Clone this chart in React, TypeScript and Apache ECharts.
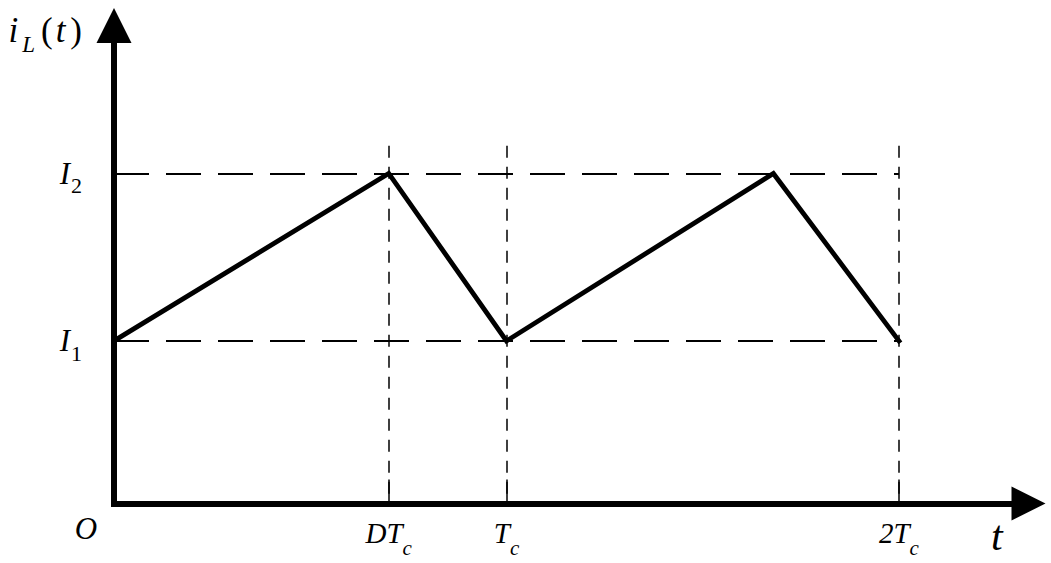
import React, { useEffect, useRef } from 'react';
import * as echarts from 'echarts';

// waveform (t in units of Tc, current in units of I1)
const tValues = [0, 0.7, 1.0, 1.68, 2.0];
const iValues = [1, 2.03, 1, 2.03, 1];

const I1 = 1;
const I2 = 2.03;

const xMax = 2.33;
const yMax = 2.94;

const xTickValues = [0, 0.7, 1, 2];
const xTickMain = ['O', 'DT', 'T', '2T'];
const xTickSub = ['', 'c', 'c', 'c'];

const yTickValues = [I1, I2];
const yTickMain = ['I', 'I'];
const yTickSub = ['1', '2'];

const guideX = [0.7, 1, 2];
const guideTop = 2.2;
const guideXEnd = 2;

const FONT = 'Liberation Serif';

export default function App() {
  const ref = useRef<HTMLDivElement>(null);
  useEffect(() => {
    const chart = echarts.init(ref.current!, null, { renderer: 'svg' });
    const axisLineStyle = { color: '#000', width: 6, cap: 'square' as const };
    const option: any = {
      animation: false,
      backgroundColor: '#fff',
      grid: { left: 114, top: 25.5, right: 22.5, bottom: 59.5, containLabel: false },
      xAxis: {
        type: 'value',
        min: 0,
        max: xMax,
        splitLine: { show: false },
        axisLine: {
          show: true,
          lineStyle: axisLineStyle,
          symbol: ['none', 'triangle'],
          symbolSize: [34, 34],
        },
        axisTick: {
          show: true,
          inside: true,
          length: 24,
          customValues: guideX,
          lineStyle: { color: '#000', width: 1.5 },
        },
        axisLabel: {
          show: true,
          customValues: xTickValues,
          margin: 3,
          formatter: (v: number) => {
            const k = xTickValues.indexOf(v);
            if (k < 0) return '';
            if (!xTickSub[k]) return '{o|' + xTickMain[k] + '}';
            return '{m|' + xTickMain[k] + '}{s|' + xTickSub[k] + '}';
          },
          rich: {
            o: { fontFamily: FONT, fontStyle: 'italic', fontSize: 31, lineHeight: 44, color: '#000', padding: [0, 56, 0, 0], verticalAlign: 'middle' },
            m: { fontFamily: FONT, fontStyle: 'italic', fontSize: 29, lineHeight: 52, color: '#000', verticalAlign: 'middle' },
            s: { fontFamily: FONT, fontStyle: 'italic', fontSize: 21, lineHeight: 3, color: '#000', verticalAlign: 'bottom' },
          },
        },
        name: '{m|t}',
        nameLocation: 'end',
        nameGap: -37.5,
        nameTextStyle: {
          align: 'left',
          verticalAlign: 'top',
          padding: [11, 0, 0, 0],
          rich: {
            m: { fontFamily: FONT, fontStyle: 'italic', fontSize: 42, lineHeight: 42, color: '#000' },
          },
        },
      },
      yAxis: {
        type: 'value',
        min: 0,
        max: yMax,
        splitLine: { show: false },
        axisLine: {
          show: true,
          lineStyle: axisLineStyle,
          symbol: ['none', 'triangle'],
          symbolSize: [35, 35],
        },
        axisTick: { show: false },
        axisLabel: {
          show: true,
          customValues: yTickValues,
          margin: 32,
          formatter: (v: number) => {
            const k = yTickValues.indexOf(v);
            if (k < 0) return '';
            return '{m|' + yTickMain[k] + '}{s|' + yTickSub[k] + '}';
          },
          rich: {
            m: { fontFamily: FONT, fontStyle: 'italic', fontSize: 31, lineHeight: 47, color: '#000', verticalAlign: 'middle', padding: [0, 1, 0, 0] },
            s: { fontFamily: FONT, fontSize: 22, lineHeight: 4, color: '#000', verticalAlign: 'bottom' },
          },
        },
        name: '{m|i}{s|L}{p|(}{m2|t}{p|)}',
        nameLocation: 'end',
        nameGap: -30.5,
        nameTextStyle: {
          align: 'right',
          verticalAlign: 'bottom',
          padding: [0, 32, 0, 0],
          rich: {
            m: { fontFamily: FONT, fontStyle: 'italic', fontSize: 35, lineHeight: 52, color: '#000', verticalAlign: 'middle', padding: [0, 4, 0, 0] },
            m2: { fontFamily: FONT, fontStyle: 'italic', fontSize: 35, lineHeight: 52, color: '#000', verticalAlign: 'middle', padding: [0, 5, 0, 3] },
            s: { fontFamily: FONT, fontStyle: 'italic', fontSize: 23, lineHeight: 4, color: '#000', verticalAlign: 'bottom', padding: [0, 6, 0, 0] },
            p: { fontFamily: FONT, fontSize: 35, lineHeight: 52, color: '#000', verticalAlign: 'middle' },
          },
        },
      },
      series: [
        {
          type: 'line',
          name: 'hguides',
          data: [],
          z: 1,
          markLine: {
            silent: true,
            symbol: ['none', 'none'],
            label: { show: false },
            lineStyle: { color: '#000', width: 2, type: [35, 17] },
            data: yTickValues.map((y) => [{ coord: [0, y] }, { coord: [guideXEnd, y] }]),
          },
        },
        {
          type: 'line',
          name: 'vguides',
          data: [],
          z: 1,
          markLine: {
            silent: true,
            symbol: ['none', 'none'],
            label: { show: false },
            lineStyle: { color: '#000', width: 1.5, type: [12, 9] },
            data: guideX.map((x) => [{ coord: [x, guideTop] }, { coord: [x, 0] }]),
          },
        },
        {
          type: 'line',
          name: 'iL',
          data: tValues.map((t, k) => [t, iValues[k]]),
          symbol: 'none',
          showSymbol: false,
          z: 3,
          lineStyle: { color: '#000', width: 4.8, join: 'miter', cap: 'square' },
        },
      ],
    };
    chart.setOption(option);
    return () => chart.dispose();
  }, []);
  return (
    <div
      ref={ref}
      style={{ position: 'fixed', left: 0, top: 0, width: 1051, height: 563, background: '#fff' }}
    />
  );
}
